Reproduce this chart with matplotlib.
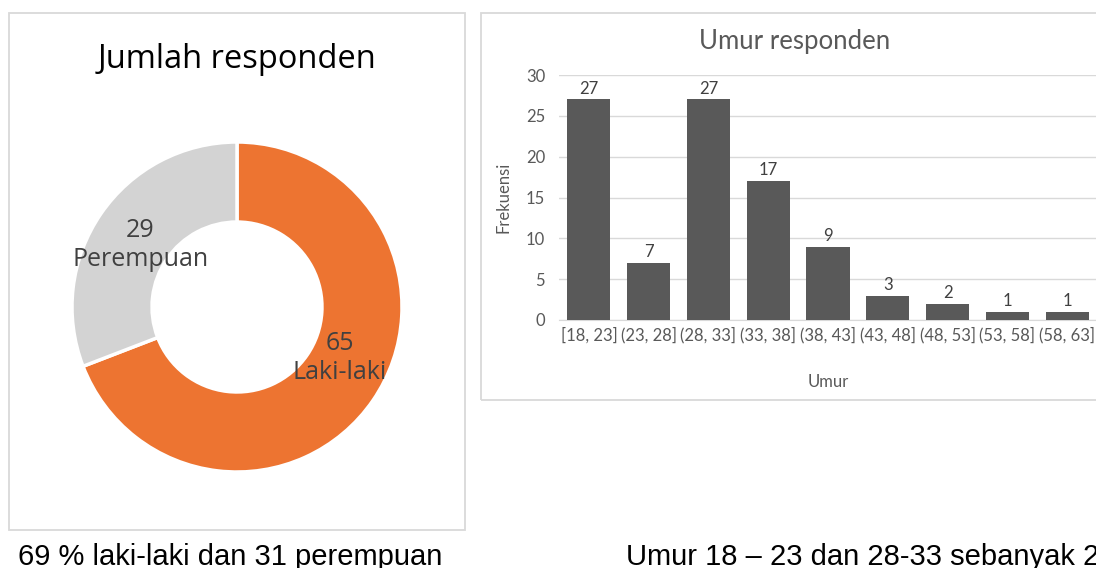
import numpy as np
import matplotlib.pyplot as plt
from matplotlib.patches import Rectangle

# data
gender_labels = ['Laki-laki', 'Perempuan']
gender_counts = [65, 29]
gender_colors = ['#ED7431', '#D3D3D3']

age_bins = ['[18, 23]', '(23, 28]', '(28, 33]', '(33, 38]', '(38, 43]',
            '(43, 48]', '(48, 53]', '(53, 58]', '(58, 63]']
age_freq = [27, 7, 27, 17, 9, 3, 2, 1, 1]

W, H = 1096, 568
fig = plt.figure(figsize=(W / 100, H / 100), dpi=100)


def px_rect(x0, y0, x1, y1):
    # pixel box (top-left origin) -> figure fraction [l, b, w, h]
    return [x0 / W, 1 - y1 / H, (x1 - x0) / W, (y1 - y0) / H]


# panel frames
for (x0, y0, x1, y1) in [(9, 13, 465, 530), (481, 13, 1110, 400)]:
    l, b, w, h = px_rect(x0, y0, x1, y1)
    fig.patches.append(Rectangle((l, b), w, h, transform=fig.transFigure,
                                 facecolor='none', edgecolor='#D9D9D9', lw=1.3))

# ---- donut ----
ax1 = fig.add_axes(px_rect(72, 142, 402, 472))
ax1.pie(gender_counts, colors=gender_colors, startangle=90, counterclock=False,
        radius=1, wedgeprops=dict(width=0.485, edgecolor='white', linewidth=2.5))
ax1.set_aspect('equal')
ax1.set_xlim(-1, 1)
ax1.set_ylim(-1, 1)
label_pos = [(0.625, -0.31), (-0.585, 0.375)]
for lab, n, (x, y) in zip(gender_labels, gender_counts, label_pos):
    ax1.text(x, y, f'{n}\n{lab}', ha='center', va='center', fontsize=18,
             color='#404040', family='Open Sans', linespacing=1.2)
fig.text(237 / W, 1 - 59 / H, 'Jumlah responden', ha='center', va='center',
         fontsize=23.5, family='Open Sans', color='black')

# ---- bar chart ----
ax2 = fig.add_axes(px_rect(559, 75, 1097, 320))
x = np.arange(len(age_bins))
bars = ax2.bar(x, age_freq, width=0.72, color='#595959', zorder=3)
ax2.set_xlim(-0.5, len(age_bins) - 0.5)
ax2.set_ylim(0, 30)
ax2.set_yticks(range(0, 31, 5))
ax2.set_xticks(x)
ax2.set_xticklabels(age_bins)
ax2.grid(axis='y', color='#D9D9D9', lw=1, zorder=0)
for s in ['top', 'right', 'left']:
    ax2.spines[s].set_visible(False)
ax2.spines['bottom'].set_color('#D9D9D9')
ax2.tick_params(length=0, labelsize=12, labelcolor='#595959', pad=5)
for lab in ax2.get_xticklabels() + ax2.get_yticklabels():
    lab.set_family('Lato')
ax2.tick_params(axis='y', pad=10)
for b, v in zip(bars, age_freq):
    ax2.text(b.get_x() + b.get_width() / 2, v + 0.35, str(v), ha='center',
             va='bottom', fontsize=12, color='#404040', family='Lato')
ax2.set_xlabel('Umur', fontsize=12, color='#595959', family='Lato', labelpad=22)
ax2.set_ylabel('Frekuensi', fontsize=12, color='#595959', family='Lato', labelpad=10)
fig.text(795 / W, 1 - 42 / H, 'Umur responden', ha='center', va='center',
         fontsize=18.5, family='Lato', color='#595959')

# captions
fig.text(18 / W, 1 - 557 / H, '69 % laki-laki dan 31 perempuan', ha='left',
         va='center', fontsize=21, family='Liberation Sans', color='black')
fig.text(626 / W, 1 - 557 / H, 'Umur 18 – 23 dan 28-33 sebanyak 27',
         ha='left', va='center', fontsize=21, family='Liberation Sans', color='black')

fig.savefig('out.png', dpi=100)
